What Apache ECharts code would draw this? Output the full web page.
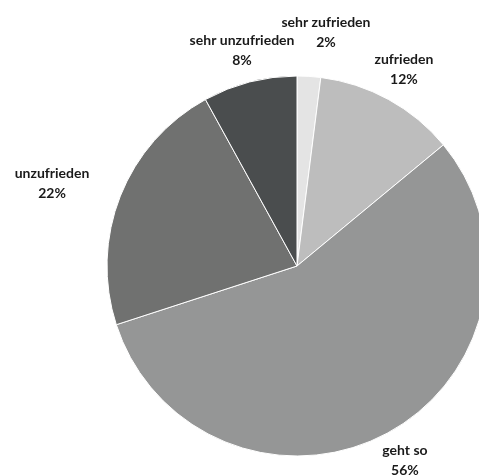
<!DOCTYPE html>
<html>
<head>
<meta charset="utf-8">
<script src="https://cdn.jsdelivr.net/npm/echarts@6/dist/echarts.min.js"></script>
<style>
  html, body { margin: 0; padding: 0; background: #ffffff; }
  #chart { width: 479px; height: 475px; }
</style>
</head>
<body>
<div id="chart"></div>
<script>
// Data
const categories = ['sehr zufrieden', 'zufrieden', 'geht so', 'unzufrieden', 'sehr unzufrieden'];
const values = [2, 12, 56, 22, 8];
const colors = ['#e4e4e4', '#bdbdbd', '#959696', '#707170', '#4a4d4e'];
// label placement (radial extra length, horizontal offset)
const labelLengths = [43.5, 33.7, 31.4, 35.5, 33];
const labelLengths2 = [-45.7, -60.8, -58.7, -24.7, -60.5];

const chart = echarts.init(document.getElementById('chart'), null, { renderer: 'canvas' });

const data = categories.map((name, i) => ({
  name: name,
  value: values[i],
  itemStyle: { color: colors[i] },
  labelLine: { show: false, length: labelLengths[i], length2: labelLengths2[i] }
}));

chart.setOption({
  animation: false,
  backgroundColor: '#ffffff',
  series: [{
    type: 'pie',
    center: [297, 266],
    radius: 190,
    startAngle: 90,
    clockwise: true,
    avoidLabelOverlap: false,
    minShowLabelAngle: 0,
    labelLayout: { hideOverlap: false },
    data: data,
    itemStyle: { borderColor: '#ffffff', borderWidth: 1 },
    emphasis: { disabled: true },
    label: {
      show: true,
      position: 'outside',
      distanceToLabelLine: 5,
      formatter: function (p) { return '{n|' + p.name + '}\n{v|' + p.value + '%}'; },
      width: 110,
      rich: {
        n: { fontFamily: 'Lato', fontWeight: 'bold', fontSize: 14, color: '#1a1a1a', lineHeight: 20, align: 'center', width: 110 },
        v: { fontFamily: 'Lato', fontWeight: 'bold', fontSize: 14, color: '#1a1a1a', lineHeight: 20, align: 'center', width: 110 }
      }
    },
    labelLine: { show: false }
  }]
});
</script>
</body>
</html>
